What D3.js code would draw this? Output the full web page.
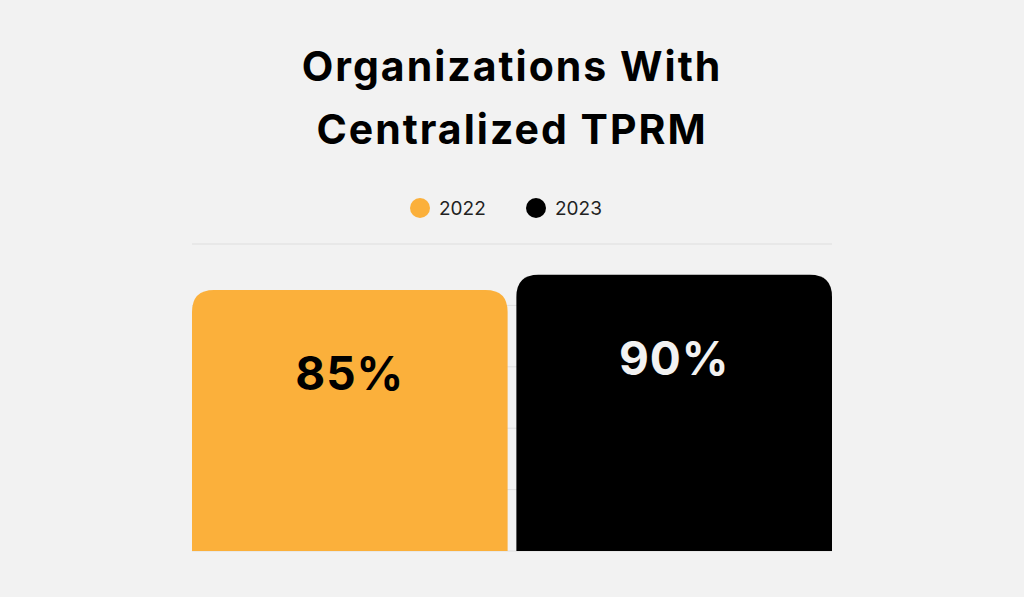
<!DOCTYPE html>
<html><head><meta charset="utf-8">
<script src="https://cdn.jsdelivr.net/npm/d3@7"></script>
<style>body{margin:0;background:#f2f2f2}</style>
</head><body><div id="chart"></div>
<script>
// Data
var years = ["2022", "2023"];
var values = [85, 90];
var colors = ["#fbb03b", "#000000"];
var labelColors = ["#000000", "#f2f2f2"];
var gridTicks = [0, 20, 40, 60, 80, 100];

var width = 1024, height = 597;
var svg = d3.select("#chart").append("svg")
    .attr("width", width).attr("height", height);
svg.append("rect").attr("width", width).attr("height", height).attr("fill", "#f2f2f2");

var x = d3.scaleBand().domain(years).range([192, 832]).paddingInner(0.027);
var y = d3.scaleLinear().domain([0, 100]).range([551, 244]);

// title
svg.append("text").attr("x", 512).attr("text-anchor", "middle")
    .style("font-family", "Inter, 'DejaVu Sans', sans-serif").style("font-weight", 700)
    .style("font-size", "41px").style("letter-spacing", "2px").attr("fill", "#000")
    .selectAll("tspan").data(["Organizations With", "Centralized TPRM"]).enter()
    .append("tspan").attr("x", 512).attr("y", function(d, i) { return 81 + i * 63; })
    .text(function(d) { return d; });

// legend
var leg = svg.selectAll(".leg").data(years).enter().append("g")
    .attr("transform", function(d, i) { return "translate(" + (420 + i * 116) + ",208)"; });
leg.append("circle").attr("r", 10).attr("fill", function(d, i) { return colors[i]; });
leg.append("text").attr("x", 19).attr("dy", "0.35em")
    .style("font-family", "Inter, sans-serif").style("font-size", "19px")
    .attr("fill", "#222").text(function(d) { return d; });

// grid
svg.selectAll(".grid").data(gridTicks).enter().append("line")
    .attr("x1", 192).attr("x2", 832)
    .attr("y1", function(d) { return y(d); }).attr("y2", function(d) { return y(d); })
    .attr("stroke", "#dedede").attr("stroke-width", 1);

// bars with rounded top corners
var r = 22;
function barPath(x0, w, top, bottom) {
  return "M" + x0 + "," + bottom + "V" + (top + r) + "Q" + x0 + "," + top + " " + (x0 + r) + "," + top +
    "H" + (x0 + w - r) + "Q" + (x0 + w) + "," + top + " " + (x0 + w) + "," + (top + r) + "V" + bottom + "Z";
}
svg.selectAll(".bar").data(values).enter().append("path")
    .attr("d", function(d, i) { return barPath(x(years[i]), x.bandwidth(), y(d), y(0)); })
    .attr("fill", function(d, i) { return colors[i]; });

svg.selectAll(".val").data(values).enter().append("text")
    .attr("x", function(d, i) { return x(years[i]) + x.bandwidth() / 2; })
    .attr("y", function(d) { return y(d) + 100; })
    .attr("text-anchor", "middle")
    .style("font-family", "Inter, sans-serif").style("font-weight", 700).style("font-size", "46px")
    .style("letter-spacing", "1px")
    .attr("fill", function(d, i) { return labelColors[i]; })
    .text(function(d) { return d + "%"; });
</script></body></html>
